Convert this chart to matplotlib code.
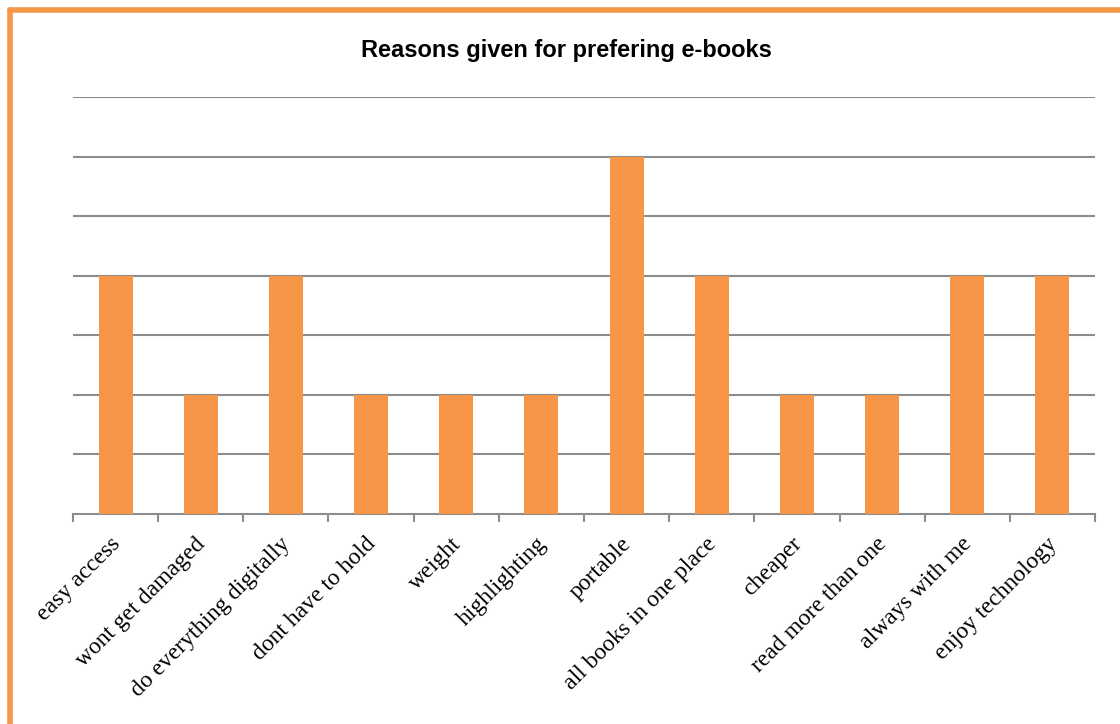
import numpy as np
import matplotlib.pyplot as plt
import matplotlib.transforms as mtrans
from matplotlib.lines import Line2D

reasons = ["easy access", "wont get damaged", "do everything digitally",
           "dont have to hold", "weight", "highlighting", "portable",
           "all books in one place", "cheaper", "read more than one",
           "always with me", "enjoy technology"]
counts = [4, 2, 4, 2, 2, 2, 6, 4, 2, 2, 4, 4]

orange = "#F79646"
grey = "#8C8C8C"

fig = plt.figure(figsize=(11.2, 7.24), dpi=100)
ax = fig.add_axes([73/1120, 1 - 514/724, (1095 - 73)/1120, (514 - 97)/724])

x = np.arange(len(reasons))
ax.bar(x, counts, width=0.4, color=orange, zorder=3)
ax.set_xlim(-0.5, len(reasons) - 0.5)
ax.set_ylim(0, 7)

for y in range(1, 8):
    ax.axhline(y, color=grey, lw=1.5, zorder=1)

for s in ["top", "right", "left"]:
    ax.spines[s].set_visible(False)
ax.spines["bottom"].set_color(grey)
ax.spines["bottom"].set_linewidth(1.5)

ax.set_yticks([])
ax.set_xticks(np.arange(len(reasons) + 1) - 0.5, minor=False)
ax.set_xticklabels([])
ax.tick_params(axis="x", which="major", length=6, width=1.5, color=grey)
ax.set_xticks(x, minor=True)
ax.set_xticklabels(reasons, minor=True, rotation=45, ha="right",
                   rotation_mode="anchor", family="Liberation Serif", fontsize=17)
ax.tick_params(axis="x", which="minor", length=0, pad=14)

# nudge labels a little to the left
shift = mtrans.ScaledTranslation(-6/100, 0, fig.dpi_scale_trans)
for lab in ax.get_xticklabels(minor=True):
    lab.set_transform(lab.get_transform() + shift)

fig.text(566/1120, 1 - 50/724, "Reasons given for prefering e-books",
         ha="center", va="center", fontsize=17, fontweight="bold",
         family="Liberation Sans")

# orange frame (only top and left edges visible)
fig.add_artist(Line2D([10/1120, 1.0], [1 - 10/724, 1 - 10/724],
                      transform=fig.transFigure, color=orange, lw=4,
                      solid_capstyle="round"))
fig.add_artist(Line2D([10/1120, 10/1120], [0.0, 1 - 10/724],
                      transform=fig.transFigure, color=orange, lw=4,
                      solid_capstyle="round"))

fig.savefig("out.png", dpi=100)
